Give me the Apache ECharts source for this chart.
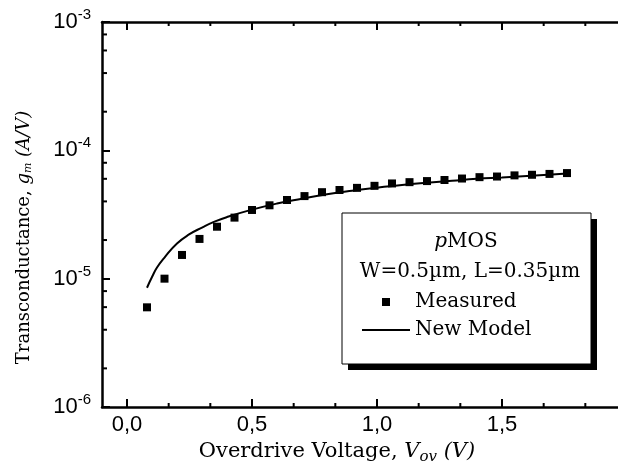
<!DOCTYPE html>
<html>
<head>
<meta charset="utf-8">
<script src="https://cdn.jsdelivr.net/npm/echarts@6/dist/echarts.min.js"></script>
<style>
  html, body { margin: 0; background: #fff; }
  #chart { width: 618px; height: 463px; }
</style>
</head>
<body>
<div id="chart"></div>
<script>
// measured points (V_ov in V, g_m in A/V)
const vovMeasured = [0.08, 0.15, 0.22, 0.29, 0.36, 0.43, 0.50, 0.57, 0.64, 0.71, 0.78, 0.85, 0.92,
                     0.99, 1.06, 1.13, 1.20, 1.27, 1.34, 1.41, 1.48, 1.55, 1.62, 1.69, 1.76];
const gmMeasured = [5.98e-6, 1.0e-5, 1.53e-5, 2.04e-5, 2.54e-5, 2.99e-5, 3.43e-5, 3.73e-5, 4.10e-5,
                    4.40e-5, 4.72e-5, 4.91e-5, 5.10e-5, 5.29e-5, 5.52e-5, 5.65e-5, 5.76e-5, 5.87e-5,
                    6.03e-5, 6.18e-5, 6.25e-5, 6.38e-5, 6.45e-5, 6.55e-5, 6.65e-5];

// new model curve
const vovModel = [0.08, 0.10, 0.12, 0.15, 0.20, 0.25, 0.30, 0.35, 0.40, 0.50, 0.60, 0.70, 0.80,
                  0.90, 1.00, 1.10, 1.20, 1.30, 1.40, 1.50, 1.60, 1.70, 1.76];
const gmModel = [8.5e-6, 1.03e-5, 1.22e-5, 1.46e-5, 1.88e-5, 2.22e-5, 2.50e-5, 2.78e-5, 3.02e-5,
                 3.45e-5, 3.85e-5, 4.20e-5, 4.55e-5, 4.85e-5, 5.12e-5, 5.38e-5, 5.60e-5, 5.80e-5,
                 6.00e-5, 6.15e-5, 6.32e-5, 6.48e-5, 6.60e-5];

// axis ticks
const xMajorTicks = [0, 0.5, 1.0, 1.5, 2.0];
const xLabelTicks = [0, 0.5, 1.0, 1.5];
const xMinorTicks = [0.1667, 0.3333, 0.6667, 0.8333, 1.1667, 1.3333, 1.6667, 1.8333];
const yMinorTicks = [2e-6, 4e-6, 6e-6, 8e-6, 2e-5, 4e-5, 6e-5, 8e-5, 2e-4, 4e-4, 6e-4, 8e-4];

const xMin = -0.1, xMax = 2.0, yMin = 1e-6, yMax = 1e-3;
const serif = 'DejaVu Serif';
const sans = 'Liberation Sans';

function tickLine(x1, y1, x2, y2) {
    return { type: 'line', shape: { x1: x1, y1: y1, x2: x2, y2: y2 }, style: { stroke: '#000', lineWidth: 2 } };
}

const chart = echarts.init(document.getElementById('chart'));
chart.setOption({
    animation: false,
    grid: { left: 102, top: 22, width: 525, height: 385, outerBoundsMode: 'none' },
    xAxis: [
        {
            type: 'value', position: 'bottom', min: xMin, max: xMax,
            axisLine: { show: true, onZero: false, lineStyle: { color: '#000', width: 2.5 } },
            axisTick: { show: true, inside: true, length: 8, customValues: xMajorTicks, lineStyle: { color: '#000', width: 2 } },
            splitLine: { show: false },
            axisLabel: {
                customValues: xLabelTicks, margin: 7, color: '#000', fontFamily: sans, fontSize: 22,
                formatter: v => v.toFixed(1).replace('.', ',')
            },
            name: '{n|Overdrive Voltage, }{i|V}{sub|ov}{i| (V)}',
            nameLocation: 'middle', nameGap: 21,
            nameTextStyle: {
                padding: [0, 55, 0, 0],
                rich: {
                    n: { fontFamily: serif, fontSize: 21, color: '#000' },
                    i: { fontFamily: serif, fontSize: 21, fontStyle: 'italic', color: '#000' },
                    sub: { fontFamily: serif, fontSize: 15, fontStyle: 'italic', color: '#000', padding: [11, 0, 0, 0] }
                }
            }
        },
        {
            type: 'value', position: 'top', min: xMin, max: xMax,
            axisLine: { show: true, onZero: false, lineStyle: { color: '#000', width: 2.5 } },
            axisTick: { show: true, inside: true, length: 8, customValues: xMajorTicks, lineStyle: { color: '#000', width: 2 } },
            axisLabel: { show: false },
            splitLine: { show: false }
        }
    ],
    yAxis: {
        type: 'log', logBase: 10, min: yMin, max: yMax,
        axisLine: { show: true, onZero: false, lineStyle: { color: '#000', width: 2.5 } },
        axisTick: { show: true, inside: true, length: 8, lineStyle: { color: '#000', width: 2 } },
        splitLine: { show: false },
        axisLabel: {
            margin: 11,
            formatter: v => '{b|10}{s|' + Math.round(Math.log10(v)) + '}',
            rich: {
                b: { fontFamily: sans, fontSize: 22, color: '#000' },
                s: { fontFamily: sans, fontSize: 15, color: '#000', padding: [0, 0, 14, 0] }
            }
        },
        name: '{n|Transconductance, }{i|g}{sub|m}{i| (A/V)}',
        nameLocation: 'middle', nameGap: 68, nameRotate: 90,
        nameTextStyle: {
            padding: [0, 46, 0, 0],
            rich: {
                n: { fontFamily: serif, fontSize: 18, color: '#000' },
                i: { fontFamily: serif, fontSize: 18, fontStyle: 'italic', color: '#000' },
                sub: { fontFamily: serif, fontSize: 11, fontStyle: 'italic', color: '#000', padding: [8, 0, 0, 0] }
            }
        }
    },
    legend: {
        orient: 'vertical', left: 357, top: 287, itemWidth: 48, itemHeight: 8, itemGap: 8, z: 5,
        textStyle: { fontFamily: serif, fontSize: 20, color: '#000' },
        data: [
            { name: 'Measured', icon: 'path://M0,0L1,0L1,1L0,1Z' },
            { name: 'New Model', icon: 'path://M0,0L24,0L24,1L0,1Z' }
        ]
    },
    graphic: [
        { type: 'rect', z: 3, shape: { x: 348, y: 219, width: 249, height: 151 }, style: { fill: '#000' } },
        { type: 'rect', z: 3, shape: { x: 342, y: 213, width: 249, height: 151 }, style: { fill: '#fff', stroke: '#000', lineWidth: 1 } },
        {
            type: 'text', z: 4, x: 466, y: 242,
            style: {
                text: '{i|p}MOS', align: 'center', verticalAlign: 'middle', fontFamily: serif, fontSize: 20, fill: '#000',
                rich: { i: { fontFamily: serif, fontSize: 20, fontStyle: 'italic', fill: '#000' } }
            }
        },
        {
            type: 'text', z: 4, x: 470, y: 272,
            style: { text: 'W=0.5µm, L=0.35µm', align: 'center', verticalAlign: 'middle', fontFamily: serif, fontSize: 20, fill: '#000' }
        }
    ],
    series: [
        {
            type: 'line', name: 'New Model', smooth: true, symbol: 'none', z: 3,
            lineStyle: { color: '#000', width: 2 }, itemStyle: { color: '#000' },
            data: vovModel.map((v, i) => [v, gmModel[i]])
        },
        {
            type: 'scatter', name: 'Measured', symbol: 'rect', symbolSize: 8, z: 4,
            itemStyle: { color: '#000', opacity: 1 },
            data: vovMeasured.map((v, i) => [v, gmMeasured[i]])
        },
        {
            type: 'custom', name: 'xMinor', silent: true, clip: false,
            data: xMinorTicks.map(v => [v, yMin]),
            renderItem: (params, api) => {
                const b = api.coord([api.value(0), yMin]);
                const t = api.coord([api.value(0), yMax]);
                return { type: 'group', children: [tickLine(b[0], b[1], b[0], b[1] - 4), tickLine(t[0], t[1], t[0], t[1] + 4)] };
            }
        },
        {
            type: 'custom', name: 'yMinor', silent: true, clip: false,
            data: yMinorTicks.map(v => [xMin, v]),
            renderItem: (params, api) => {
                const p = api.coord([xMin, api.value(1)]);
                return tickLine(p[0], p[1], p[0] + 5, p[1]);
            }
        }
    ]
});
</script>
</body>
</html>
